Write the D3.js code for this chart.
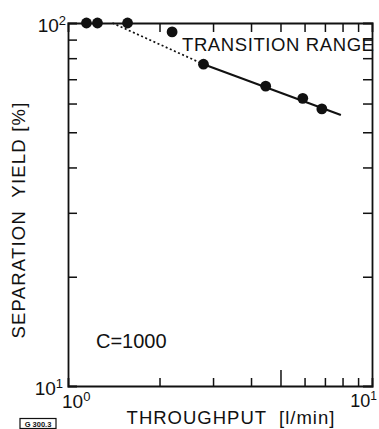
<!DOCTYPE html>
<html><head><meta charset="utf-8">
<script src="https://cdn.jsdelivr.net/npm/d3@7"></script>
<style>body{margin:0;background:#fff}svg{display:block}text{font-family:"Liberation Sans",Arial,sans-serif;fill:#111;white-space:pre}</style>
</head><body>
<script>
const throughput = [1.15, 1.25, 1.57, 2.2, 2.79, 4.47, 5.92, 6.84];
const yieldPct   = [100, 100, 100, 94.5, 77, 67, 62, 58];
const dottedLine = [[1.4, 100], [2.79, 77]];
const solidLine  = [[2.79, 77], [7.9, 55.8]];
const xMinorTicks = [2, 3, 4, 5, 6, 7, 8, 9];
const yMinorTicks = [20, 30, 40, 50, 60, 70, 80, 90];
const xDomain = [1, 10];
const yDomain = [10, 100];
const xTitle = "THROUGHPUT  [l/min]";
const yTitle = "SEPARATION  YIELD [%]";
const annotation = "TRANSITION RANGE";
const paramLabel = "C=1000";
const figCode = "G 300.3";

const W = 379, H = 429;
const m = {l: 68, r: 372, t: 23, b: 386};
const svg = d3.select("body").append("svg").attr("width", W).attr("height", H);
const x = d3.scaleLog().domain(xDomain).range([m.l, m.r]);
const y = d3.scaleLog().domain(yDomain).range([m.b, m.t]);

const ink = "#111";
// ticks (inward)
const bottomAx = d3.axisBottom(x).tickValues(xMinorTicks).tickFormat("").tickSizeOuter(0).tickSize(-8);
const topAx = d3.axisTop(x).tickValues(xMinorTicks).tickFormat("").tickSizeOuter(0).tickSize(-9);
const leftAx = d3.axisLeft(y).tickValues(yMinorTicks).tickFormat("").tickSizeOuter(0).tickSize(-9);
const rightAx = d3.axisRight(y).tickValues(yMinorTicks).tickFormat("").tickSizeOuter(0).tickSize(-9);
const gb = svg.append("g").attr("transform", `translate(0,${m.b})`).call(bottomAx);
gb.selectAll(".tick line").filter(d => d === 5).attr("y2", -16);
svg.append("g").attr("transform", `translate(0,${m.t})`).call(topAx);
svg.append("g").attr("transform", `translate(${m.l},0)`).call(leftAx);
svg.append("g").attr("transform", `translate(${m.r},0)`).call(rightAx);
svg.selectAll(".domain").attr("stroke", ink).attr("stroke-width", 1.8);
svg.selectAll(".tick line").attr("stroke", ink).attr("stroke-width", 1.5);

// data lines
const line = d3.line().x(d => x(d[0])).y(d => y(d[1]));
svg.append("path").attr("d", line(dottedLine)).attr("fill", "none").attr("stroke", ink)
  .attr("stroke-width", 1.7).attr("stroke-dasharray", "2,2.5");
svg.append("path").attr("d", line(solidLine)).attr("fill", "none").attr("stroke", ink).attr("stroke-width", 2.1);

// points
svg.selectAll("circle.pt").data(throughput.map((t, i) => [t, yieldPct[i]])).enter()
  .append("circle").attr("class", "pt").attr("cx", d => x(d[0])).attr("cy", d => y(d[1]))
  .attr("r", 5.4).attr("fill", ink);

// power-of-ten labels
function pow10(xp, yp, exp, anchorEnd, fs, sfs) {
  const t = svg.append("text").attr("x", xp).attr("y", yp).attr("font-size", fs || 19)
    .attr("text-anchor", anchorEnd ? "end" : "start");
  t.append("tspan").text("10");
  t.append("tspan").attr("dy", -7).attr("font-size", sfs || 13).text(exp);
}
pow10(66, 32, "2", true);
pow10(63, 395, "1", true);
pow10(62, 408, "0", false);
pow10(377, 407, "1", true, 18, 12);

// titles
svg.append("text").attr("x", 231).attr("y", 424).attr("text-anchor", "middle").attr("font-size", 18.5)
  .attr("letter-spacing", 1).text(xTitle);
svg.append("text").attr("transform", "translate(25,220) rotate(-90)").attr("text-anchor", "middle")
  .attr("font-size", 18.5).attr("letter-spacing", 1.2).text(yTitle);
svg.append("text").attr("x", 182).attr("y", 51).attr("font-size", 18.5).attr("letter-spacing", 0.6).text(annotation);
svg.append("text").attr("x", 96).attr("y", 348).attr("font-size", 20).text(paramLabel);

// figure code stamp
svg.append("rect").attr("x", 20).attr("y", 418.5).attr("width", 36).attr("height", 10)
  .attr("fill", "#fff").attr("stroke", ink).attr("stroke-width", 1.2);
svg.append("text").attr("x", 38).attr("y", 426.5).attr("text-anchor", "middle")
  .attr("font-size", 7.5).attr("font-weight", "bold").text(figCode);
</script>
</body></html>
